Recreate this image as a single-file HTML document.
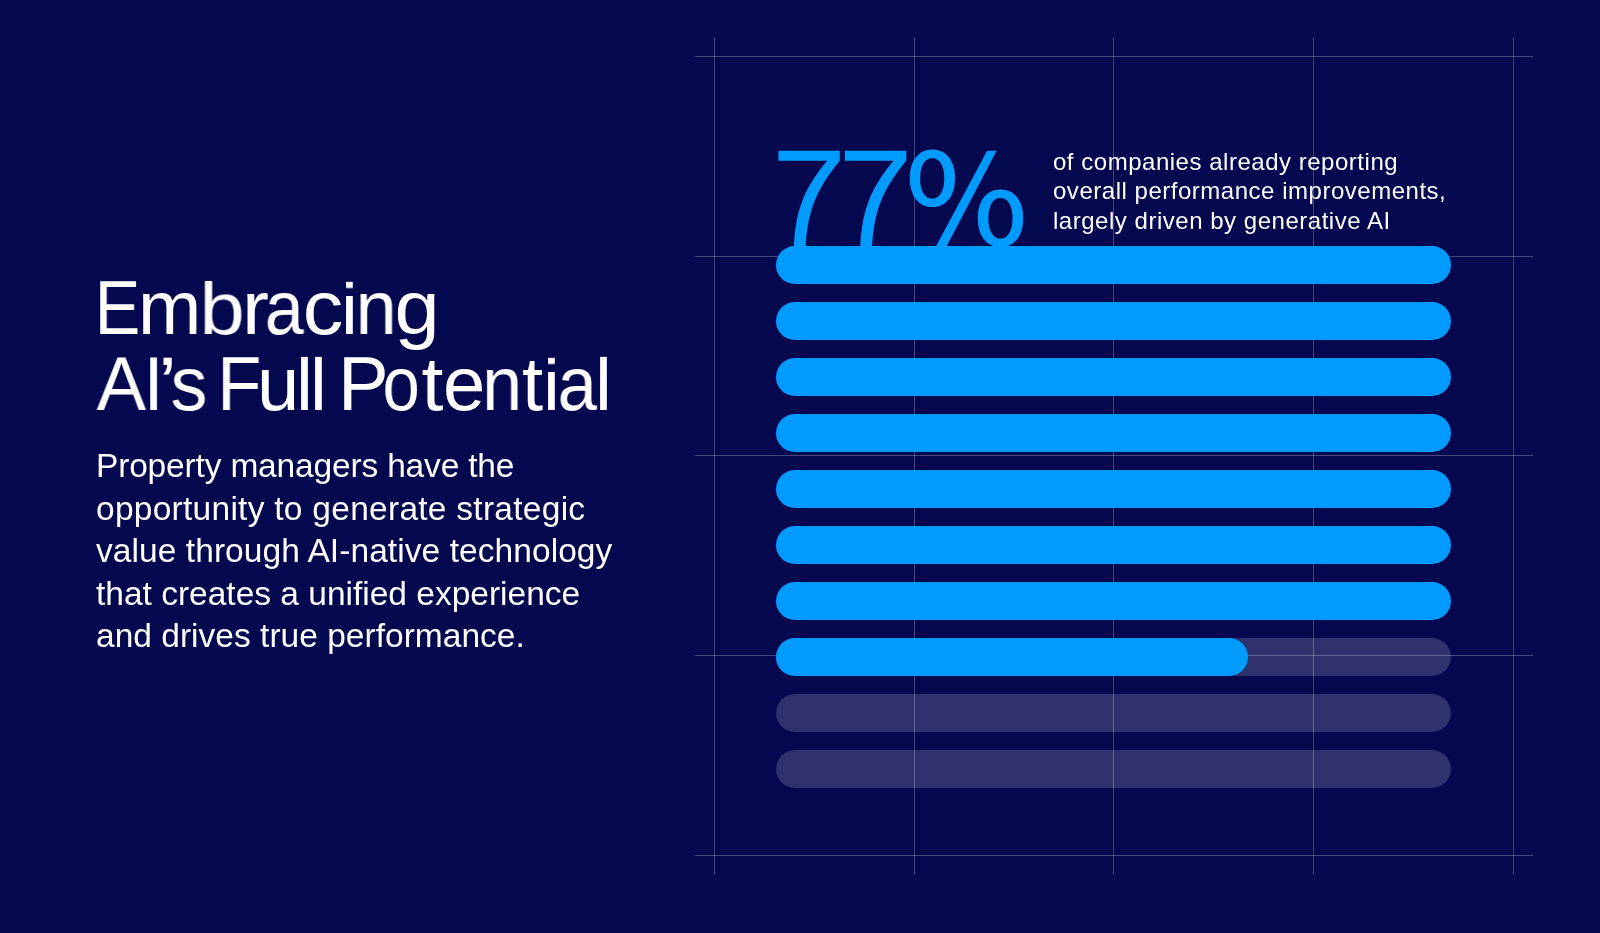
<!DOCTYPE html>
<html>
<head>
<meta charset="utf-8">
<style>
html,body{margin:0;padding:0;}
body{-webkit-font-smoothing:antialiased;width:1600px;height:933px;background:#04084e;position:relative;overflow:hidden;font-family:"Liberation Sans",sans-serif;color:#fff;}
.h{position:absolute;left:695px;width:838px;height:1px;background:rgba(255,255,255,0.26);}
.v{position:absolute;top:37px;width:1px;height:838px;background:rgba(255,255,255,0.26);}
.bar{position:absolute;left:776px;width:675px;height:38px;border-radius:19px;background:#009bff;}
.trk{position:absolute;left:776px;width:675px;height:38px;border-radius:19px;background:rgba(255,255,255,0.168);}
.tl{will-change:transform;position:absolute;font-size:76px;line-height:76px;white-space:nowrap;}
#para{will-change:transform;position:absolute;left:96px;top:444.6px;font-size:33.5px;line-height:42.5px;white-space:nowrap;}
#cap{will-change:transform;position:absolute;left:1052.5px;top:146.6px;font-size:24px;line-height:29.4px;letter-spacing:0.52px;white-space:nowrap;}
</style>
</head>
<body>
<div class="h" style="top:56px"></div>
<div class="h" style="top:256px"></div>
<div class="h" style="top:455px"></div>
<div class="h" style="top:655px"></div>
<div class="h" style="top:855px"></div>
<div class="v" style="left:714px"></div>
<div class="v" style="left:914px"></div>
<div class="v" style="left:1113px"></div>
<div class="v" style="left:1313px"></div>
<div class="v" style="left:1513px"></div>

<span class="tl" style="left:91.72px;top:269.5px;transform:scale(0.901,1.000);transform-origin:26.83px 64.5px">E</span>
<span class="tl" style="left:137.93px;top:269.5px">m</span>
<span class="tl" style="left:201.14px;top:269.5px;transform:scale(1.069,0.966);transform-origin:21.99px 64.5px">b</span>
<span class="tl" style="left:243.25px;top:269.5px;transform:scale(1.063,1.000);transform-origin:14.55px 64.5px">r</span>
<span class="tl" style="left:263.15px;top:269.5px;transform:scale(0.922,1.000);transform-origin:22.75px 64.5px">a</span>
<span class="tl" style="left:303.94px;top:269.5px;transform:scale(1.065,1.000);transform-origin:19.61px 64.5px">c</span>
<span class="tl" style="left:341.03px;top:269.5px;transform:scale(1.000,0.950);transform-origin:8.42px 64.5px">i</span>
<span class="tl" style="left:354.66px;top:269.5px;transform:scale(0.976,1.000);transform-origin:21.19px 64.5px">n</span>
<span class="tl" style="left:396.37px;top:269.5px;transform:scale(1.068,1.000);transform-origin:20.28px 64.5px">g</span>
<span class="tl" style="left:95.93px;top:346px;transform:scale(0.977,1.000);transform-origin:25.35px 64.5px">A</span>
<span class="tl" style="left:142.82px;top:346px;transform:scale(0.938,1.000);transform-origin:10.56px 64.5px">I</span>
<span class="tl" style="left:158.66px;top:346px;transform:scale(1.126,1.000);transform-origin:8.44px 64.5px">’</span>
<span class="tl" style="left:169.77px;top:346px;transform:scale(0.969,1.000);transform-origin:18.68px 64.5px">s</span>
<span class="tl" style="left:215.84px;top:346px;transform:scale(0.956,1.000);transform-origin:24.81px 64.5px">F</span>
<span class="tl" style="left:256.75px;top:346px">u</span>
<span class="tl" style="left:296.14px;top:346px;transform:scale(1.000,0.967);transform-origin:8.46px 64.5px">l</span>
<span class="tl" style="left:310.44px;top:346px;transform:scale(1.000,0.967);transform-origin:8.46px 64.5px">l</span>
<span class="tl" style="left:337.87px;top:346px">P</span>
<span class="tl" style="left:380.37px;top:346px;transform:scale(0.878,1.000);transform-origin:21.13px 64.5px">o</span>
<span class="tl" style="left:421.70px;top:346px;transform:scale(1.036,1.000);transform-origin:10.85px 64.5px">t</span>
<span class="tl" style="left:443.44px;top:346px">e</span>
<span class="tl" style="left:481.39px;top:346px;transform:scale(0.949,1.000);transform-origin:21.19px 64.5px">n</span>
<span class="tl" style="left:521.90px;top:346px">t</span>
<span class="tl" style="left:543.28px;top:346px;transform:scale(1.000,0.950);transform-origin:8.42px 64.5px">i</span>
<span class="tl" style="left:555.88px;top:346px;transform:scale(0.929,1.000);transform-origin:22.75px 64.5px">a</span>
<span class="tl" style="left:595.44px;top:346px;transform:scale(1.000,0.967);transform-origin:8.46px 64.5px">l</span>
<div id="para"><span style="letter-spacing:-0.17px">Property managers have the</span><br><span style="letter-spacing:0.27px">opportunity to generate strategic</span><br><span style="letter-spacing:0.07px">value through AI-native technology</span><br><span style="letter-spacing:0px">that creates a unified experience</span><br><span style="letter-spacing:0.02px">and drives true performance.</span></div>

<svg id="big" width="1600" height="933" viewBox="0 0 1600 933" style="position:absolute;left:0;top:0">
<g fill="#009bff">
<path d="M778.5,150.85 H839.8 V160.75 C814.9,190.75 807.35,213 805.6,249 H793.7 C795.45,213 802.2,190.75 827.1,160.75 H778.5 Z"/>
<path d="M778.5,150.85 H839.8 V160.75 C814.9,190.75 807.35,213 805.6,249 H793.7 C795.45,213 802.2,190.75 827.1,160.75 H778.5 Z" transform="translate(66.4 0)"/>
<path fill-rule="evenodd" d="M955.00,178.30 L954.90,181.79 L954.60,184.82 L954.11,187.66 L953.43,190.33 L952.56,192.84 L951.51,195.18 L950.28,197.34 L948.89,199.32 L947.34,201.09 L945.65,202.65 L943.81,203.99 L941.84,205.10 L939.74,205.97 L937.52,206.60 L935.14,206.97 L932.40,207.10 L929.66,206.97 L927.28,206.60 L925.06,205.97 L922.96,205.10 L920.99,203.99 L919.15,202.65 L917.46,201.09 L915.91,199.32 L914.52,197.34 L913.29,195.18 L912.24,192.84 L911.37,190.33 L910.69,187.66 L910.20,184.82 L909.90,181.79 L909.80,178.30 L909.90,174.81 L910.20,171.78 L910.69,168.94 L911.37,166.27 L912.24,163.76 L913.29,161.42 L914.52,159.26 L915.91,157.28 L917.46,155.51 L919.15,153.95 L920.99,152.61 L922.96,151.50 L925.06,150.63 L927.28,150.00 L929.66,149.63 L932.40,149.50 L935.14,149.63 L937.52,150.00 L939.74,150.63 L941.84,151.50 L943.81,152.61 L945.65,153.95 L947.34,155.51 L948.89,157.28 L950.28,159.26 L951.51,161.42 L952.56,163.76 L953.43,166.27 L954.11,168.94 L954.60,171.78 L954.90,174.81 Z M944.20,175.94 L944.04,173.81 L943.78,171.81 L943.41,169.92 L942.95,168.15 L942.39,166.50 L941.74,164.98 L940.99,163.59 L940.17,162.34 L939.26,161.24 L938.28,160.29 L937.23,159.51 L936.11,158.90 L934.93,158.45 L933.66,158.19 L932.20,158.10 L930.74,158.19 L929.47,158.45 L928.29,158.90 L927.17,159.51 L926.12,160.29 L925.14,161.24 L924.23,162.34 L923.41,163.59 L922.66,164.98 L922.01,166.50 L921.45,168.15 L920.99,169.92 L920.62,171.81 L920.36,173.81 L920.20,175.94 L920.15,178.40 L920.20,180.86 L920.36,182.99 L920.62,184.99 L920.99,186.88 L921.45,188.65 L922.01,190.30 L922.66,191.82 L923.41,193.21 L924.23,194.46 L925.14,195.56 L926.12,196.51 L927.17,197.29 L928.29,197.90 L929.47,198.35 L930.74,198.61 L932.20,198.70 L933.66,198.61 L934.93,198.35 L936.11,197.90 L937.23,197.29 L938.28,196.51 L939.26,195.56 L940.17,194.46 L940.99,193.21 L941.74,191.82 L942.39,190.30 L942.95,188.65 L943.41,186.88 L943.78,184.99 L944.04,182.99 L944.20,180.86 L944.25,178.40 Z"/>
<path fill-rule="evenodd" d="M1023.20,218.30 L1023.10,221.79 L1022.80,224.82 L1022.31,227.66 L1021.62,230.33 L1020.75,232.84 L1019.69,235.18 L1018.46,237.34 L1017.07,239.32 L1015.51,241.09 L1013.80,242.65 L1011.96,243.99 L1009.98,245.10 L1007.87,245.97 L1005.64,246.60 L1003.25,246.97 L1000.50,247.10 L997.75,246.97 L995.36,246.60 L993.13,245.97 L991.02,245.10 L989.04,243.99 L987.20,242.65 L985.49,241.09 L983.93,239.32 L982.54,237.34 L981.31,235.18 L980.25,232.84 L979.38,230.33 L978.69,227.66 L978.20,224.82 L977.90,221.79 L977.80,218.30 L977.90,214.81 L978.20,211.78 L978.69,208.94 L979.38,206.27 L980.25,203.76 L981.31,201.42 L982.54,199.26 L983.93,197.28 L985.49,195.51 L987.20,193.95 L989.04,192.61 L991.02,191.50 L993.13,190.63 L995.36,190.00 L997.75,189.63 L1000.50,189.50 L1003.25,189.63 L1005.64,190.00 L1007.87,190.63 L1009.98,191.50 L1011.96,192.61 L1013.80,193.95 L1015.51,195.51 L1017.07,197.28 L1018.46,199.26 L1019.69,201.42 L1020.75,203.76 L1021.62,206.27 L1022.31,208.94 L1022.80,211.78 L1023.10,214.81 Z M1012.45,215.74 L1012.29,213.59 L1012.03,211.59 L1011.66,209.70 L1011.20,207.93 L1010.64,206.27 L1009.99,204.74 L1009.24,203.35 L1008.42,202.10 L1007.51,200.99 L1006.53,200.05 L1005.48,199.26 L1004.36,198.65 L1003.18,198.21 L1001.91,197.94 L1000.45,197.85 L998.99,197.94 L997.72,198.21 L996.54,198.65 L995.42,199.26 L994.37,200.05 L993.39,200.99 L992.48,202.10 L991.66,203.35 L990.91,204.74 L990.26,206.27 L989.70,207.93 L989.24,209.70 L988.87,211.59 L988.61,213.59 L988.45,215.74 L988.40,218.20 L988.45,220.66 L988.61,222.81 L988.87,224.81 L989.24,226.70 L989.70,228.47 L990.26,230.13 L990.91,231.66 L991.66,233.05 L992.48,234.30 L993.39,235.41 L994.37,236.35 L995.42,237.14 L996.54,237.75 L997.72,238.19 L998.99,238.46 L1000.45,238.55 L1001.91,238.46 L1003.18,238.19 L1004.36,237.75 L1005.48,237.14 L1006.53,236.35 L1007.51,235.41 L1008.42,234.30 L1009.24,233.05 L1009.99,231.66 L1010.64,230.13 L1011.20,228.47 L1011.66,226.70 L1012.03,224.81 L1012.29,222.81 L1012.45,220.66 L1012.50,218.20 Z"/>
<path d="M987.2,150.8 L996.6,150.8 L945.2,249 L934.6,249 Z"/>
</g>
</svg>
<div id="cap">of companies already reporting<br>overall performance improvements,<br>largely driven by generative AI</div>

<div class="bar" style="top:245.5px"></div>
<div class="bar" style="top:301.5px"></div>
<div class="bar" style="top:357.5px"></div>
<div class="bar" style="top:413.5px"></div>
<div class="bar" style="top:469.5px"></div>
<div class="bar" style="top:525.5px"></div>
<div class="bar" style="top:581.5px"></div>
<div class="trk" style="top:637.5px"></div>
<div class="bar" style="top:637.5px;width:472px"></div>
<div class="trk" style="top:693.5px"></div>
<div class="trk" style="top:749.5px"></div>
</body>
</html>
